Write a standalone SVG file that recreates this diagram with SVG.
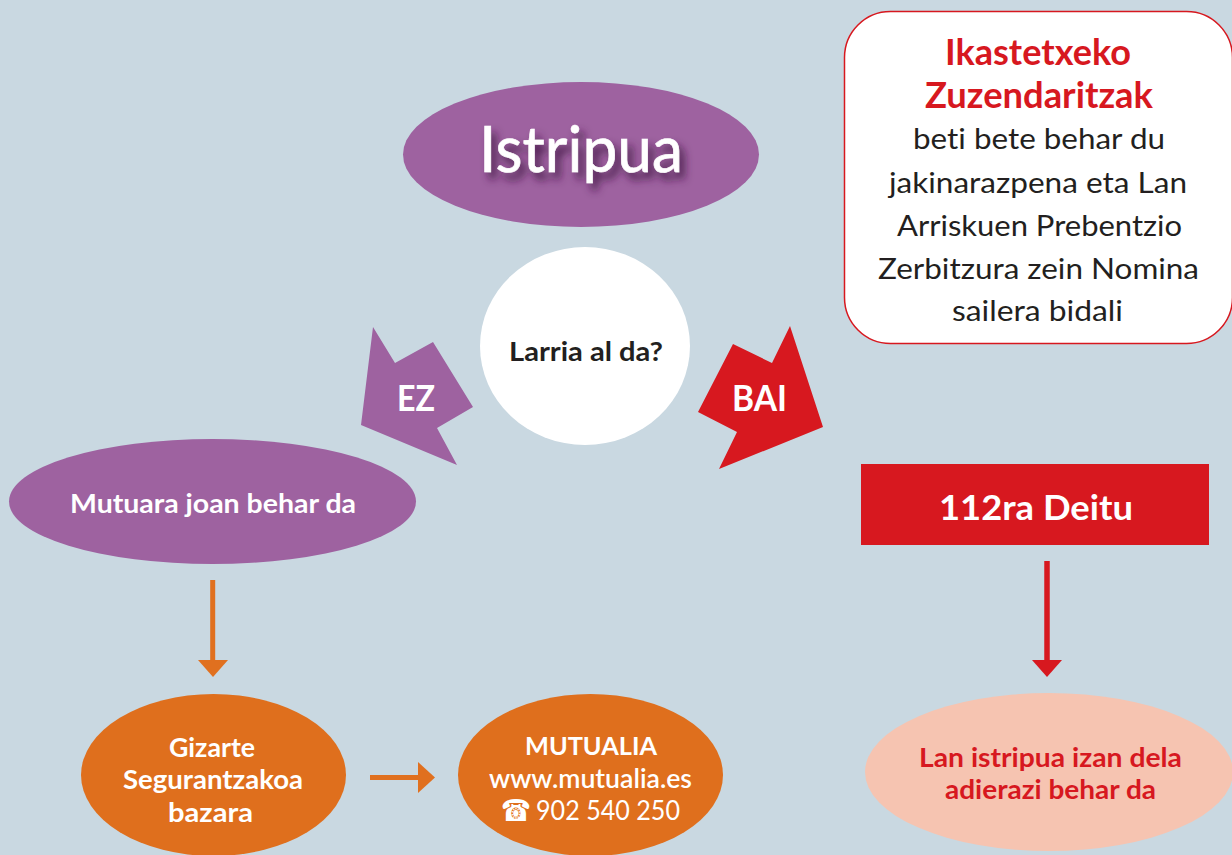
<svg xmlns="http://www.w3.org/2000/svg" width="1232" height="855" viewBox="0 0 1232 855">
<defs>
<filter id="shadow" x="-20%" y="-40%" width="150%" height="190%">
<feDropShadow dx="5" dy="7" stdDeviation="4.5" flood-color="#3f1743" flood-opacity="0.9"/>
</filter>
</defs>
<style>
text{font-family:Lato,"Open Sans","DejaVu Sans",sans-serif;text-anchor:middle;font-variant-ligatures:none}
.w{fill:#ffffff}
.b{font-weight:bold}
.purple{fill:#9e62a0}
.orange{fill:#df6f1d}
.red{fill:#d7181f}
.lineO{stroke:#e0701f;stroke-width:5;fill:none}
.lineR{stroke:#d7181f;stroke-width:5.5;fill:none}
</style>
<rect x="0" y="0" width="1232" height="855" fill="#c9d8e1"/>

<g id="istripua">
<ellipse class="purple" cx="581" cy="154.5" rx="178" ry="72.5"/>
<text class="w" x="581" y="172" font-size="63" stroke="#ffffff" stroke-width="0.6" textLength="204" lengthAdjust="spacingAndGlyphs" filter="url(#shadow)">Istripua</text>
</g>

<g id="larria">
<ellipse cx="585" cy="346" rx="105" ry="99" fill="#ffffff"/>
<text class="b" x="586" y="361" font-size="26" fill="#231f20" textLength="154" lengthAdjust="spacingAndGlyphs">Larria al da?</text>
</g>

<g id="ez">
<polygon class="purple" points="373,327 395,363 433,342 473,407 437,428 457,465 361,425"/>
<text class="w b" x="416" y="411" font-size="36" textLength="38" lengthAdjust="spacingAndGlyphs">EZ</text>
</g>

<g id="bai">
<polygon class="red" points="790,326 823,427 719,469 737,432 698,412 733,344 772,363"/>
<text class="w b" x="759.5" y="411" font-size="36" textLength="55" lengthAdjust="spacingAndGlyphs">BAI</text>
</g>

<g id="zuzendaritza">
<rect x="844.5" y="11.5" width="388" height="332" rx="46" fill="#ffffff" stroke="#d7181f" stroke-width="1.5"/>
<text class="b" x="1038" y="65" font-size="37" fill="#d7181f" textLength="186" lengthAdjust="spacingAndGlyphs">Ikastetxeko</text>
<text class="b" x="1039" y="108" font-size="36" fill="#d7181f" textLength="228" lengthAdjust="spacingAndGlyphs">Zuzendaritzak</text>
<g fill="#231f20" font-size="29">
<text x="1039" y="149" textLength="252" lengthAdjust="spacingAndGlyphs">beti bete behar du</text>
<text x="1038" y="193" textLength="298" lengthAdjust="spacingAndGlyphs">jakinarazpena eta Lan</text>
<text x="1039.5" y="236" textLength="285" lengthAdjust="spacingAndGlyphs">Arriskuen Prebentzio</text>
<text x="1038.5" y="279" textLength="321" lengthAdjust="spacingAndGlyphs">Zerbitzura zein Nomina</text>
<text x="1037.5" y="321" textLength="171" lengthAdjust="spacingAndGlyphs">sailera bidali</text>
</g>
</g>

<g id="mutuara">
<ellipse class="purple" cx="212.5" cy="501.5" rx="203.5" ry="62.5"/>
<text class="w b" x="213" y="513" font-size="27" textLength="286" lengthAdjust="spacingAndGlyphs">Mutuara joan behar da</text>
</g>

<g id="deitu">
<rect class="red" x="861" y="464" width="348" height="81"/>
<text class="w b" x="1036" y="520" font-size="34" textLength="194" lengthAdjust="spacingAndGlyphs">112ra Deitu</text>
</g>

<g id="gizarte">
<ellipse class="orange" cx="213.5" cy="775" rx="132.5" ry="81"/>
<g class="w b" font-size="27">
<text x="212" y="757" textLength="86" lengthAdjust="spacingAndGlyphs">Gizarte</text>
<text x="213" y="789" textLength="180" lengthAdjust="spacingAndGlyphs">Segurantzakoa</text>
<text x="210.5" y="822" textLength="85" lengthAdjust="spacingAndGlyphs">bazara</text>
</g>
</g>

<g id="mutualia">
<ellipse class="orange" cx="590.5" cy="775" rx="132.5" ry="81"/>
<text class="w b" x="591" y="755" font-size="25" textLength="132" lengthAdjust="spacingAndGlyphs">MUTUALIA</text>
<text class="w" x="590.5" y="788" font-size="27" font-weight="600" textLength="203" lengthAdjust="spacingAndGlyphs">www.mutualia.es</text>
<text class="w" x="516" y="821" font-size="30" style="font-family:'DejaVu Sans',sans-serif" textLength="30" lengthAdjust="spacingAndGlyphs">☎</text>
<text class="w" x="608" y="820" font-size="26" textLength="144" lengthAdjust="spacingAndGlyphs">902 540 250</text>
</g>

<g id="lan-istripua">
<ellipse cx="1049" cy="772" rx="184" ry="79" fill="#f6c4b1"/>
<g class="b" font-size="26" fill="#d7181f">
<text x="1050.5" y="767" textLength="263" lengthAdjust="spacingAndGlyphs">Lan istripua izan dela</text>
<text x="1050.5" y="799" textLength="211" lengthAdjust="spacingAndGlyphs">adierazi behar da</text>
</g>
</g>

<g id="connectors">
<line class="lineO" x1="212.7" y1="580" x2="212.7" y2="662"/>
<polygon fill="#e0701f" points="198,660 228,660 213,677"/>
<line class="lineO" x1="370" y1="777.5" x2="420" y2="777.5"/>
<polygon fill="#e0701f" points="418,762 418,793 435,777.5"/>
<line class="lineR" x1="1047" y1="561" x2="1047" y2="662"/>
<polygon fill="#d7181f" points="1032,660 1062,660 1047,677"/>
</g>
</svg>
